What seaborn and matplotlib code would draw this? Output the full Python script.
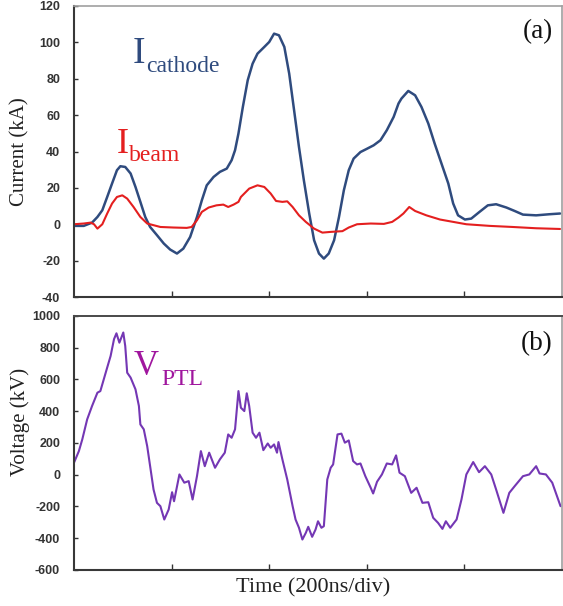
import matplotlib
matplotlib.use("Agg")
import matplotlib.pyplot as plt
import pandas as pd
import seaborn as sns

# time in ns (200 ns per division, 5 divisions across the panel)
T_CATHODE = [0, 20, 37, 48, 58, 68, 78, 88, 95, 105, 116, 126, 136, 146, 156, 170, 184, 197,
             211, 224, 238, 252, 262, 272, 286, 299, 313, 323, 330, 337, 346, 356, 366, 376,
             390, 400, 410, 420, 431, 441, 451, 461, 471, 482, 492, 502, 512, 522, 533, 543,
             553, 563, 573, 587, 601, 614, 628, 641, 655, 665, 671, 685, 699, 712, 726, 739,
             753, 767, 777, 787, 801, 814, 831, 848, 865, 886, 903, 920, 947, 974, 996]
I_CATHODE = [-0.9, -0.9, 0.9, 4.0, 7.7, 15.0, 22.4, 29.7, 31.9, 31.5, 27.9, 20.5, 12.3, 4.0,
             -1.5, -6.0, -10.6, -13.9, -16.1, -13.4, -7.0, 4.0, 13.2, 21.4, 26.0, 28.8, 30.6,
             35.2, 40.7, 49.9, 64.5, 79.2, 88.3, 93.8, 97.5, 100.2, 104.8, 103.9, 97.5, 82.8,
             62.7, 42.5, 24.2, 5.9, -8.8, -16.1, -18.9, -16.1, -8.8, 4.0, 18.7, 29.7, 36.1,
             39.7, 41.6, 43.4, 46.2, 51.7, 59.0, 66.4, 69.1, 73.3, 70.9, 64.5, 55.4, 44.4,
             33.4, 22.4, 11.4, 4.9, 2.6, 3.1, 6.8, 10.4, 11.0, 9.2, 7.3, 5.3, 4.9, 5.5, 5.9]

T_BEAM = [0, 20, 34, 41, 48, 58, 68, 78, 88, 99, 109, 122, 136, 150, 177, 204, 231, 241, 252,
          262, 276, 292, 306, 316, 327, 337, 342, 359, 376, 390, 403, 414, 427, 437, 448, 461,
          475, 492, 509, 526, 550, 563, 580, 608, 635, 652, 665, 675, 687, 699, 722, 750, 777,
          804, 852, 899, 947, 996]
I_BEAM = [0.0, 0.4, 0.9, 0.0, -2.4, 0.0, 5.9, 11.4, 15.0, 15.9, 14.1, 9.5, 4.0, 0.4, -1.5,
          -1.8, -2.0, -1.5, 2.2, 6.8, 9.2, 10.4, 10.8, 9.5, 10.8, 12.3, 15.0, 19.6, 21.4, 20.5,
          16.9, 12.8, 12.3, 12.6, 9.5, 4.9, 1.3, -2.4, -4.6, -4.2, -3.8, -1.8, 0.0, 0.4, 0.2,
          1.3, 3.7, 5.9, 9.5, 7.3, 4.9, 2.6, 1.3, 0.0, -0.9, -1.5, -2.2, -2.6]

T_PTL = [0, 10, 17, 27, 37, 48, 54, 61, 68, 75, 82, 87, 93, 101, 105, 109, 116, 126, 133, 136,
         143, 150, 156, 163, 170, 177, 185, 194, 201, 205, 216, 226, 235, 243, 252, 260, 268,
         277, 289, 299, 309, 316, 323, 330, 337, 342, 349, 354, 359, 366, 373, 380, 388, 397,
         403, 410, 416, 419, 427, 437, 448, 454, 461, 468, 475, 480, 488, 495, 500, 507, 512,
         519, 526, 531, 540, 548, 555, 563, 572, 580, 587, 597, 608, 613, 621, 631, 641, 652,
         660, 667, 678, 691, 702, 714, 726, 736, 746, 755, 762, 771, 784, 794, 804, 818, 830,
         842, 855, 865, 880, 892, 903, 920, 933, 947, 954, 967, 980, 997]
V_PTL = [76, 149, 223, 349, 433, 517, 527, 601, 675, 748, 854, 891, 832, 896, 811, 643, 612,
         538, 433, 317, 286, 180, 54, -93, -177, -198, -282, -219, -110, -167, 2, -50, -40,
         -156, -9, 149, 54, 139, 44, 97, 139, 254, 233, 286, 527, 422, 401, 513, 433, 265, 233,
         265, 155, 197, 170, 191, 139, 206, 97, -30, -198, -282, -334, -408, -366, -328, -391,
         -345, -293, -334, -324, -30, 44, 65, 254, 259, 202, 216, 86, 65, 71, -9, -82, -118,
         -44, 2, 71, 65, 122, 13, -9, -114, -82, -177, -173, -271, -303, -341, -293, -334,
         -282, -156, 2, 80, 16, 54, 2, -93, -240, -114, -72, -9, 2, 54, 8, 2, -50, -198]

X_TICKS = [200, 400, 600, 800]
CURRENT_TICKS = list(range(-40, 121, 20))
VOLTAGE_TICKS = list(range(-600, 1001, 200))

BLUE = "#2f4b7e"
RED = "#e41f1f"
PURPLE = "#7437b4"
MAGENTA = "#a0169e"

W, H = 563, 606

sns.set_theme(style="white")
plt.rcParams["font.family"] = ["Liberation Serif", "DejaVu Serif"]
plt.rcParams["lines.solid_joinstyle"] = "round"
plt.rcParams["lines.solid_capstyle"] = "round"

cathode_df = pd.DataFrame({"t": T_CATHODE, "i": I_CATHODE})
beam_df = pd.DataFrame({"t": T_BEAM, "i": I_BEAM})
ptl_df = pd.DataFrame({"t": T_PTL, "v": V_PTL})

fig = plt.figure(figsize=(W / 100, H / 100), dpi=100)
ax_a = fig.add_axes([74 / W, 1 - 297 / H, 488 / W, 291 / H])
ax_b = fig.add_axes([74 / W, 1 - 570 / H, 488 / W, 254 / H])

sns.lineplot(data=cathode_df, x="t", y="i", color=BLUE, lw=1.8, ax=ax_a)
sns.lineplot(data=beam_df, x="t", y="i", color=RED, lw=1.5, ax=ax_a)
sns.lineplot(data=ptl_df, x="t", y="v", color=PURPLE, lw=1.5, ax=ax_b)

tick_font = dict(family=["Liberation Sans", "DejaVu Sans"], weight="bold", size=9)

for ax, ylim, yticks in [(ax_a, (-40, 120), CURRENT_TICKS), (ax_b, (-600, 1000), VOLTAGE_TICKS)]:
    ax.set_xlim(0, 1000)
    ax.set_ylim(*ylim)
    ax.set_xticks(X_TICKS)
    ax.set_xticklabels([])
    ax.set_yticks(yticks)
    ax.set_yticklabels([str(v) for v in yticks], fontdict=tick_font, color="#333333")
    ax.tick_params(axis="x", direction="in", length=4, width=1, color="#333333", bottom=True)
    ax.tick_params(axis="y", direction="in", length=3, width=1, color="#333333", left=True, pad=10)
    ax.set_xlabel("")
    for side in ["left", "bottom"]:
        ax.spines[side].set_color("#383838")
        ax.spines[side].set_linewidth(1.5)
    for side in ["top", "right"]:
        ax.spines[side].set_color("#a0a0a0")
        ax.spines[side].set_linewidth(1.2)

ax_b.spines["top"].set_color("#4a4a4a")
ax_b.spines["top"].set_linewidth(1.4)

ax_a.set_ylabel("Current (kA)", fontsize=15, color="#222222", va="center")
ax_a.yaxis.set_label_coords(-0.111, 0.5)
ax_b.set_ylabel("Voltage (kV)", fontsize=15, color="#222222", va="center")
ax_b.yaxis.set_label_coords(-0.111, 0.583)
ax_b.set_xlabel("Time (200ns/div)", fontsize=16, color="#222222", va="baseline")
ax_b.xaxis.set_label_coords(0.491, -0.09)

# panel tags
fig.text(553 / W, 1 - 32 / H, "(a)", ha="right", va="center", fontsize=19.5, color="#111111")
fig.text(553 / W, 1 - 344 / H, "(b)", ha="right", va="center", fontsize=19.5, color="#111111")

# curve labels: big letter + subscript, baseline positioned in pixels
fig.text(133 / W, 1 - 63 / H, "I", fontsize=27, color=BLUE, va="baseline")
fig.text(146.5 / W, 1 - 72 / H, "cathode", fontsize=17, color=BLUE, va="baseline")
fig.text(116.5 / W, 1 - 152.5 / H, "I", fontsize=26, color=RED, va="baseline")
fig.text(129 / W, 1 - 161 / H, "beam", fontsize=17, color=RED, va="baseline")
fig.text(134 / W, 1 - 375 / H, "V", fontsize=25, color=MAGENTA, va="baseline")
fig.text(161 / W, 1 - 385 / H, "PTL", fontsize=17, color=MAGENTA, va="baseline")

fig.savefig("out.png", dpi=100)
